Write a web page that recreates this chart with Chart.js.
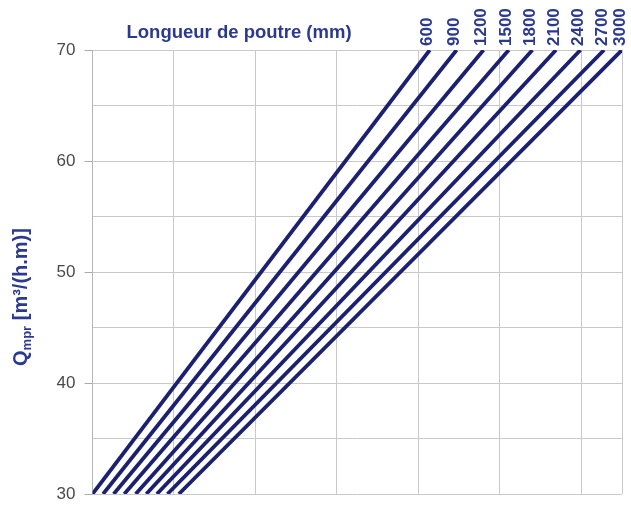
<!DOCTYPE html>
<html>
<head>
<meta charset="utf-8">
<script src="https://cdn.jsdelivr.net/npm/chart.js@4"></script>
<style>
  html, body { margin: 0; padding: 0; background: #fff; }
  #wrap { width: 631px; height: 505px; }
</style>
</head>
<body>
<div id="wrap"><canvas id="chartPoutre"></canvas></div>
<script>
// longueurs de poutre (mm) - une droite par longueur
const lengths = ['600', '900', '1200', '1500', '1800', '2100', '2400', '2700', '3000'];
const qBottom = 30;
const qTop = 70;
// position horizontale (unités de grille) de chaque droite à Q=30 et Q=70
const xAt30 = [0.00, 0.13, 0.26, 0.39, 0.53, 0.66, 0.79, 0.92, 1.06];
const xAt70 = [4.14, 4.47, 4.80, 5.11, 5.40, 5.69, 5.99, 6.28, 6.50];
const yTickLabels = [30, 40, 50, 60, 70];

const navy = '#1b2070';
const blueText = '#2b3a8f';

const datasets = lengths.map((l, i) => ({
    label: l,
    data: [{x: xAt30[i], y: qBottom}, {x: xAt70[i], y: qTop}],
    borderColor: navy,
    borderWidth: 3.8,
    pointRadius: 0,
    fill: false,
    tension: 0
}));

const textPlugin = {
    id: 'textPlugin',
    afterDraw(chart) {
        const ctx = chart.ctx;
        const xs = chart.scales.x, ys = chart.scales.y;
        const area = chart.chartArea;
        ctx.save();
        ctx.fillStyle = blueText;

        // étiquettes des longueurs, verticales au bout de chaque droite
        ctx.font = 'bold 17px "Liberation Sans", Arial';
        ctx.textAlign = 'left';
        ctx.textBaseline = 'middle';
        lengths.forEach((l, i) => {
            const px = Math.min(xs.getPixelForValue(xAt70[i]), area.right) - 2;
            const py = ys.getPixelForValue(qTop) - 4;
            ctx.save();
            ctx.translate(px, py);
            ctx.rotate(-Math.PI / 2);
            ctx.fillText(l, 0, 0);
            ctx.restore();
        });

        // titre
        ctx.font = 'bold 18.5px "Liberation Sans", Arial';
        ctx.fillText('Longueur de poutre (mm)', area.left + 34, 33);

        // titre axe Y avec indice
        ctx.save();
        ctx.translate(21, 297);
        ctx.rotate(-Math.PI / 2);
        const big = 'bold 20px "Liberation Sans", Arial';
        const small = 'bold 13px "Liberation Sans", Arial';
        ctx.font = big;
        const wQ = ctx.measureText('Q').width;
        const rest = ' [m³/(h.m)]';
        const wR = ctx.measureText(rest).width;
        ctx.font = small;
        const wS = ctx.measureText('mpr').width;
        let x0 = -(wQ + wS + wR) / 2;
        ctx.font = big;
        ctx.fillText('Q', x0, 0);
        ctx.font = small;
        ctx.fillText('mpr', x0 + wQ, 6);
        ctx.font = big;
        ctx.fillText(rest, x0 + wQ + wS, 0);
        ctx.restore();

        ctx.restore();
    }
};

const ctx = document.getElementById('chartPoutre').getContext('2d');
new Chart(ctx, {
    type: 'line',
    data: { datasets: datasets },
    options: {
        responsive: true,
        maintainAspectRatio: false,
        animation: false,
        layout: { padding: { left: 0, top: 50, right: 9, bottom: 11 } },
        plugins: {
            legend: { display: false },
            tooltip: { enabled: false },
            title: { display: false }
        },
        scales: {
            x: {
                type: 'linear',
                min: 0,
                max: 6.5,
                ticks: { display: false, stepSize: 1 },
                grid: { color: '#c9c9c9', drawTicks: false },
                border: { display: false },
                afterFit(s) { s.height = 0; }
            },
            y: {
                type: 'linear',
                min: qBottom,
                max: qTop,
                ticks: {
                    stepSize: 5,
                    padding: 9,
                    color: '#4a4a4a',
                    font: { family: '"Liberation Sans", Arial', size: 17 },
                    callback: v => yTickLabels.includes(v) ? String(v) : ''
                },
                grid: {
                    color: '#c9c9c9',
                    tickLength: 8,
                    tickColor: c => (c.tick && yTickLabels.includes(c.tick.value)) ? '#aaa' : 'rgba(0,0,0,0)'
                },
                border: { color: '#b5b5b5' },
                afterFit(s) {
                    s.width = 92.5;
                    s.paddingTop = 0;
                    s.paddingBottom = 0;
                }
            }
        }
    },
    plugins: [textPlugin]
});
</script>
</body>
</html>
